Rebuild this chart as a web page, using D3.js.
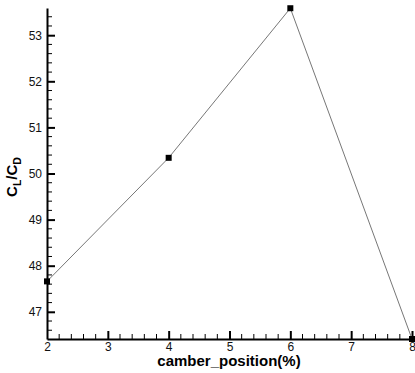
<!DOCTYPE html>
<html>
<head>
<meta charset="utf-8">
<script src="https://cdn.jsdelivr.net/npm/d3@7"></script>
<style>
  body { margin: 0; background: #fff; }
  text { font-family: "Liberation Sans", Arial, sans-serif; }
</style>
</head>
<body>
<script>
// data
const camberPos = [2, 4, 6, 8];
const clcd = [47.66, 50.34, 53.585, 46.41];
const xTicks = [2, 3, 4, 5, 6, 7, 8];
const yTicks = [47, 48, 49, 50, 51, 52, 53];

const W = 415, H = 373;
const margin = { left: 47, right: 3, top: 8, bottom: 34 };

const svg = d3.select('body').append('svg')
  .attr('width', W)
  .attr('height', H);

const x = d3.scaleLinear()
  .domain([2, 8])
  .range([margin.left, W - margin.right]);

const y = d3.scaleLinear()
  .domain([46.41, 53.59])
  .range([H - margin.bottom, margin.top]);

// ----- minor ticks (every 0.2) -----
const xMinor = d3.range(2, 8.001, 0.2).filter(v => Math.abs(v - Math.round(v)) > 0.01);
const yMinor = d3.range(46.6, 53.59, 0.2).filter(v => Math.abs(v - Math.round(v)) > 0.01);

const xAxis = svg.append('g')
  .attr('transform', `translate(0, ${y.range()[0]})`);
xAxis.call(d3.axisBottom(x).tickValues(xTicks).tickSizeInner(-8).tickSizeOuter(0).tickPadding(3)
  .tickFormat(d3.format('d')));
xAxis.selectAll('.tick')
  .filter(d => d === 2)
  .select('line').attr('y2', 0);
xAxis.append('g').selectAll('line')
  .data(xMinor)
  .join('line')
  .attr('x1', d => x(d)).attr('x2', d => x(d))
  .attr('y1', 0).attr('y2', -5)
  .attr('stroke', '#000');

const yAxis = svg.append('g')
  .attr('transform', `translate(${x.range()[0]}, 0)`);
yAxis.call(d3.axisLeft(y).tickValues(yTicks).tickSizeInner(-8).tickSizeOuter(0).tickPadding(5)
  .tickFormat(d3.format('d')));
yAxis.append('g').selectAll('line')
  .data(yMinor)
  .join('line')
  .attr('y1', d => y(d)).attr('y2', d => y(d))
  .attr('x1', 0).attr('x2', 5)
  .attr('stroke', '#000');

svg.selectAll('.domain').attr('stroke-width', 2);
svg.selectAll('.tick line').attr('stroke-width', 2);
svg.selectAll('.tick text')
  .attr('font-size', 12)
  .attr('fill', '#111');

// ----- line + markers -----
const pts = camberPos.map((c, i) => [c, clcd[i]]);

svg.append('path')
  .datum(pts)
  .attr('fill', 'none')
  .attr('stroke', '#777')
  .attr('stroke-width', 1)
  .attr('d', d3.line().x(d => x(d[0])).y(d => y(d[1])));

svg.selectAll('.pt')
  .data(pts)
  .join('rect')
  .attr('class', 'pt')
  .attr('x', d => x(d[0]) - 3)
  .attr('y', d => y(d[1]) - 3)
  .attr('width', 6)
  .attr('height', 6)
  .attr('fill', '#000');

// ----- axis titles -----
svg.append('text')
  .attr('x', 229)
  .attr('y', 366)
  .attr('text-anchor', 'middle')
  .attr('font-size', 15)
  .attr('font-weight', 'bold')
  .text('camber_position(%)');

const yt = svg.append('text')
  .attr('transform', 'translate(17, 177) rotate(-90)')
  .attr('text-anchor', 'middle')
  .attr('font-size', 15)
  .attr('font-weight', 'bold');
yt.append('tspan').text('C');
yt.append('tspan').attr('font-size', 10.5).attr('dy', 4).text('L');
yt.append('tspan').attr('dy', -4).text('/C');
yt.append('tspan').attr('font-size', 10.5).attr('dy', 4).text('D');
</script>
</body>
</html>
